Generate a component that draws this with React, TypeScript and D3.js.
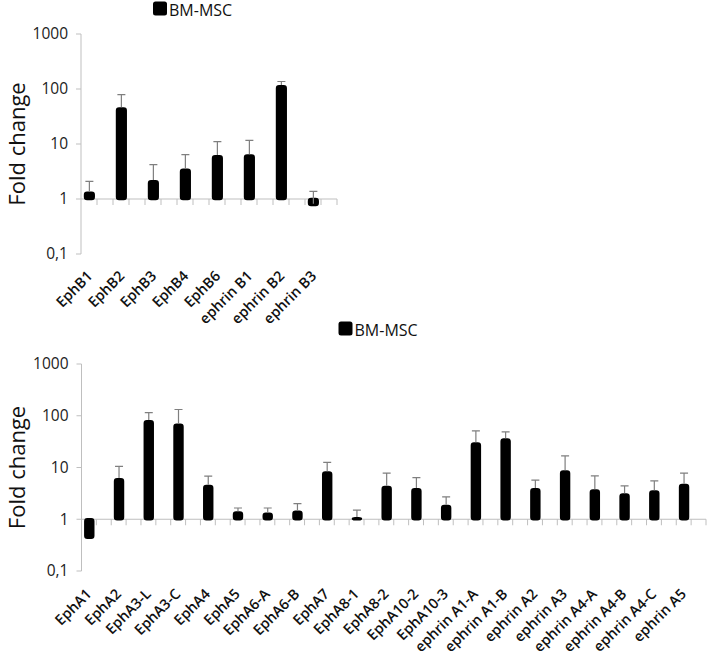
import * as d3 from 'd3';
import { useEffect, useRef } from 'react';

// EphB / ephrin-B panel
const topCategories = ['EphB1', 'EphB2', 'EphB3', 'EphB4', 'EphB6', 'ephrin B1', 'ephrin B2', 'ephrin B3'];
const topValues = [1.3, 44, 2.1, 3.4, 6, 6.2, 112, 0.78];
const topErrTop = [2.1, 79, 4.2, 6.4, 11, 11.6, 137, 1.38];

// EphA / ephrin-A panel
const bottomCategories = [
  'EphA1', 'EphA2', 'EphA3-L', 'EphA3-C', 'EphA4', 'EphA5', 'EphA6-A', 'EphA6-B', 'EphA7',
  'EphA8-1', 'EphA8-2', 'EphA10-2', 'EphA10-3', 'ephrin A1-A', 'ephrin A1-B', 'ephrin A2',
  'ephrin A3', 'ephrin A4-A', 'ephrin A4-B', 'ephrin A4-C', 'ephrin A5',
];
const bottomValues = [0.44, 5.9, 78, 67, 4.4, 1.35, 1.28, 1.4, 8, 1.05, 4.2, 3.8, 1.8, 29, 34.6, 3.8, 8.4, 3.6, 3.0, 3.45, 4.6];
const bottomErrTop = [0.44, 10.5, 115, 132, 6.8, 1.65, 1.65, 2.0, 12.6, 1.5, 7.8, 6.4, 2.7, 51, 48.6, 5.7, 16.7, 6.9, 4.4, 5.5, 7.8];

const yTicks = [0.1, 1, 10, 100, 1000];
const seriesNames = ['BM-MSC', 'empty'];

const FONT = "'Open Sans', 'DejaVu Sans', sans-serif";
const AXIS_GRAY = '#bfbfbf';

type Panel = {
  categories: string[];
  values: number[];
  errTop: number[];
  left: number;
  right: number;
  top: number;
  bottom: number;
  legendX: number;
  legendY: number;
  labelDx: number;
  labelDy: number;
};

function drawPanel(svg: d3.Selection<SVGSVGElement, unknown, null, undefined>, p: Panel) {
  const g = svg.append('g');

  const x = d3.scaleBand().domain(p.categories).range([p.left, p.right]);
  const xs = d3.scaleBand().domain(seriesNames).range([0, x.bandwidth()]).paddingInner(0.3).paddingOuter(0.2);
  const y = d3.scaleLog().domain([0.1, 1000]).range([p.bottom, p.top]);

  // value axis
  g.append('line')
    .attr('x1', p.left).attr('x2', p.left)
    .attr('y1', y(1000)).attr('y2', y(0.1))
    .attr('stroke', AXIS_GRAY).attr('stroke-width', 1);
  g.selectAll('.ytick')
    .data(yTicks)
    .enter()
    .append('line')
    .attr('x1', p.left - 5).attr('x2', p.left)
    .attr('y1', (d) => y(d)).attr('y2', (d) => y(d))
    .attr('stroke', AXIS_GRAY);
  g.selectAll('.ylab')
    .data(yTicks)
    .enter()
    .append('text')
    .attr('x', p.left - 13)
    .attr('y', (d) => y(d))
    .attr('dy', '0.35em')
    .attr('text-anchor', 'end')
    .attr('font-family', FONT)
    .attr('font-size', 15.5)
    .attr('fill', '#222')
    .text((d) => (d < 1 ? '0,1' : `${d}`));

  g.append('text')
    .attr('transform', `translate(25,${(y(1000) + y(0.1)) / 2}) rotate(-90)`)
    .attr('text-anchor', 'middle')
    .attr('font-family', FONT)
    .attr('font-size', 22)
    .attr('fill', '#111')
    .text('Fold change');

  // category axis crossing at 1
  const y1 = y(1);
  g.append('line')
    .attr('x1', p.left).attr('x2', p.right)
    .attr('y1', y1).attr('y2', y1)
    .attr('stroke', AXIS_GRAY);
  const tickXs: number[] = [];
  p.categories.forEach((c) => {
    tickXs.push(x(c)! + x.bandwidth() / 2, x(c)! + x.bandwidth());
  });
  g.selectAll('.xtick')
    .data(tickXs)
    .enter()
    .append('line')
    .attr('x1', (d) => d).attr('x2', (d) => d)
    .attr('y1', y1).attr('y2', y1 + 6)
    .attr('stroke', AXIS_GRAY);

  const bw = xs.bandwidth();
  const bx = (i: number) => x(p.categories[i])! + xs('BM-MSC')!;

  // bars (thick rounded outline like the soft-edged originals)
  g.selectAll('.bar')
    .data(p.values)
    .enter()
    .append('rect')
    .attr('x', (_, i) => bx(i) + 1)
    .attr('width', bw - 2)
    .attr('y', (d) => Math.min(y(d), y1))
    .attr('height', (d) => Math.abs(y(d) - y1))
    .attr('rx', 2)
    .attr('fill', '#000')
    .attr('stroke', '#000')
    .attr('stroke-width', 2.5)
    .attr('stroke-linejoin', 'round');

  // upper error bars
  const errIdx = p.values.map((_, i) => i).filter((i) => p.errTop[i] > p.values[i]);
  g.selectAll('.err')
    .data(errIdx)
    .enter()
    .append('path')
    .attr('d', (i) => {
      const cx = bx(i) + bw / 2;
      const y0 = y(p.values[i]) - 1.25;
      const ye = y(p.errTop[i]);
      return `M${cx},${y0}V${ye}M${cx - 4},${ye}H${cx + 4}`;
    })
    .attr('fill', 'none')
    .attr('stroke', '#7f7f7f')
    .attr('stroke-width', 1.2);

  // rotated category labels
  g.selectAll('.xlab')
    .data(p.categories)
    .enter()
    .append('text')
    .attr('transform', (_, i) => `translate(${bx(i) + bw / 2 + p.labelDx},${p.bottom + p.labelDy}) rotate(-45)`)
    .attr('text-anchor', 'end')
    .attr('font-family', FONT)
    .attr('font-size', 14.5)
    .attr('font-weight', 600)
    .attr('fill', '#111')
    .text((d) => d);

  // legend
  g.append('rect')
    .attr('x', p.legendX).attr('y', p.legendY)
    .attr('width', 14).attr('height', 14)
    .attr('rx', 2.5)
    .attr('fill', '#000');
  g.append('text')
    .attr('x', p.legendX + 16)
    .attr('y', p.legendY + 14)
    .attr('font-family', FONT)
    .attr('font-size', 16)
    .attr('fill', '#111')
    .text('BM-MSC');
}

const App = () => {
  const svgRef = useRef<SVGSVGElement>(null);

  useEffect(() => {
    const svg = d3.select(svgRef.current!);
    svg.selectAll('*').remove();
    drawPanel(svg, {
      categories: topCategories,
      values: topValues,
      errTop: topErrTop,
      left: 81,
      right: 337,
      top: 34,
      bottom: 254,
      legendX: 153,
      legendY: 1.5,
      labelDx: 4,
      labelDy: 23,
    });
    drawPanel(svg, {
      categories: bottomCategories,
      values: bottomValues,
      errTop: bottomErrTop,
      left: 81.5,
      right: 706,
      top: 364,
      bottom: 571,
      legendX: 338.5,
      legendY: 321.5,
      labelDx: 3,
      labelDy: 24,
    });
  }, []);

  return (
    <svg
      ref={svgRef}
      width={709}
      height={656}
      style={{ position: 'absolute', left: 0, top: 0, background: '#fff' }}
    />
  );
};

export default App;
